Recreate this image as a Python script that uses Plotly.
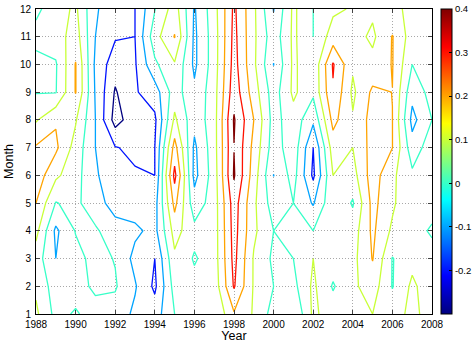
import plotly.graph_objects as go

# Monthly anomaly field, one row per calendar month, one value per year
years = list(range(1988, 2009))
months = list(range(1, 13))

jan = [0.12, -0.03, 0.01, -0.04, -0.04, -0.12, -0.15, 0.0, 0.03, 0.0, 0.19, 0.09, -0.04, -0.1, 0.12, 0.05, 0.09, 0.1, 0.05, 0.13, 0.05]
feb = [0.08, -0.05, -0.04, 0.02, 0.01, -0.09, -0.22, 0.04, 0.03, 0.04, 0.31, 0.09, 0.0, -0.03, 0.12, -0.01, 0.08, 0.15, -0.005, 0.12, 0.04]
mar = [0.05, -0.10, -0.03, 0.03, -0.005, -0.13, -0.20, 0.08, -0.01, 0.05, 0.33, 0.09, -0.02, 0.0, 0.1, 0.05, 0.07, 0.205, -0.005, 0.07, 0.03]
apr = [0.13, -0.12, 0.005, 0.02, -0.08, -0.08, -0.13, 0.14, 0.03, 0.05, 0.34, 0.12, 0.0, 0.02, 0.0, 0.07, 0.05, 0.22, 0.08, 0.03, -0.01]
may = [0.20, -0.005, 0.03, -0.08, -0.12, -0.15, -0.14, 0.23, -0.06, 0.05, 0.35, 0.12, -0.05, 0.0, -0.11, 0.08, -0.01, 0.23, 0.12, 0.0, 0.03]
jun = [0.26, 0.12, 0.04, -0.09, -0.15, -0.19, -0.20, 0.33, -0.13, 0.05, 0.41, 0.15, -0.102, 0.04, -0.22, 0.1, 0.06, 0.25, 0.12, 0.02, 0.05]
jul = [0.21, 0.22, 0.06, -0.10, -0.195, -0.22, -0.20, 0.24, -0.12, 0.06, 0.398, 0.17, -0.05, 0.06, -0.2, 0.15, 0.1, 0.24, 0.201, -0.06, 0.06]
aug = [0.09, 0.19, 0.11, -0.10, -0.34, -0.24, -0.22, 0.12, -0.07, 0.06, 0.41, 0.2, -0.04, 0.06, -0.08, 0.23, 0.11, 0.24, 0.201, -0.13, 0.0]
sep = [-0.005, -0.005, 0.205, -0.11, -0.31, -0.21, -0.15, 0.05, -0.08, 0.06, 0.36, 0.15, -0.05, 0.12, 0.02, 0.29, 0.08, 0.22, 0.199, -0.07, 0.04]
oct = [-0.03, -0.01, 0.205, -0.12, -0.26, -0.21, -0.02, 0.09, -0.12, 0.05, 0.34, 0.12, -0.102, 0.12, 0.02, 0.31, 0.115, 0.13, 0.205, 0.0, 0.06]
nov = [0.03, 0.05, 0.15, -0.10, -0.19, -0.20, 0.06, 0.205, -0.12, 0.05, 0.33, 0.12, -0.06, 0.12, 0.0, 0.15, 0.14, 0.08, 0.205, 0.05, 0.05]
dec = [-0.02, 0.05, 0.12, -0.09, -0.15, -0.20, -0.005, 0.15, -0.11, 0.06, 0.32, 0.12, -0.105, 0.12, 0.0, 0.08, 0.11, 0.12, 0.12, 0.08, 0.03]

z = [jan, feb, mar, apr, may, jun, jul, aug, sep, oct, nov, dec]

levels = [-0.3, -0.2, -0.1, 0.0, 0.1, 0.2, 0.3, 0.4]
x_ticks = list(range(1988, 2009, 2))
cbar_ticks = [-0.2, -0.1, 0, 0.1, 0.2, 0.3, 0.4]
cbar_labels = ["-0.2", "-0.1", "0", "0.1", "0.2", "0.3", "0.4"]
cmin, cmax = -0.3, 0.4


def jet_rgb(t):
    """MATLAB jet colormap value at t in [0, 1]."""
    clip = lambda v: max(0.0, min(1.0, v))
    r = clip(1.5 - abs(4 * t - 3))
    g = clip(1.5 - abs(4 * t - 2))
    b = clip(1.5 - abs(4 * t - 1))
    return "rgb(%d,%d,%d)" % (round(r * 255), round(g * 255), round(b * 255))


jet = [[i / 64, jet_rgb(i / 64)] for i in range(65)]

fig = go.Figure()

# One trace per contour level so each line gets its jet colour
for lev in levels:
    col = jet_rgb((lev - cmin) / (cmax - cmin))
    fig.add_trace(go.Contour(
        x=years, y=months, z=z,
        autocontour=False,
        contours=dict(start=lev, end=lev, size=1.0, coloring="lines"),
        colorscale=[[0, col], [1, col]],
        line=dict(width=1.3, smoothing=0),
        showscale=False,
        hoverinfo="skip",
    ))

# Continuous colour bar for the jet scale
fig.add_trace(go.Scatter(
    x=[1988], y=[1], mode="markers",
    marker=dict(
        size=0.1, opacity=0, color=[0], colorscale=jet, cmin=cmin, cmax=cmax,
        showscale=True,
        colorbar=dict(
            x=1.0235, xanchor="left", y=0.5, yanchor="middle",
            len=1.0, lenmode="fraction", thickness=11,
            outlinecolor="black", outlinewidth=1,
            tickvals=cbar_ticks, ticktext=cbar_labels,
            ticks="inside", ticklen=3, tickcolor="black",
            tickfont=dict(family="Liberation Sans, Arial", size=9.5, color="black"),
            ticklabeloverflow="allow",
            xpad=0, ypad=0,
        ),
    ),
    hoverinfo="skip", showlegend=False,
))

axis_font = dict(family="Liberation Sans, Arial", size=10, color="black")
title_font = dict(family="Liberation Sans, Arial", size=12.5, color="black")
grid = dict(showgrid=True, gridcolor="#a8a8a8", griddash="1px,2px", gridwidth=1)
fig.update_xaxes(
    range=[1988, 2008], tickvals=x_ticks, ticks="inside", ticklen=4,
    showline=True, linecolor="black", linewidth=1, mirror="allticks",
    zeroline=False, tickfont=axis_font, ticklabelstandoff=1, **grid,
    title=dict(text="Year", font=title_font, standoff=3),
)
fig.update_yaxes(
    range=[1, 12], tickvals=months, ticks="inside", ticklen=4,
    showline=True, linecolor="black", linewidth=1, mirror="allticks",
    zeroline=False, tickfont=axis_font, ticklabelstandoff=2, **grid,
    title=dict(text="Month", font=title_font, standoff=3),
)
fig.update_layout(
    width=472, height=343,
    margin=dict(l=36, r=40, t=9, b=29, autoexpand=False),
    paper_bgcolor="white", plot_bgcolor="white",
    showlegend=False,
)

fig.write_html("out.html")
